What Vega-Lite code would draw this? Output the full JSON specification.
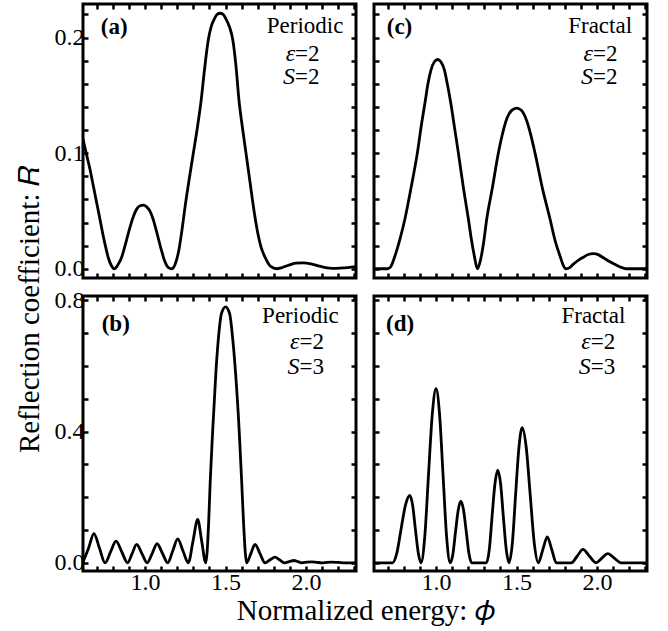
{
  "$schema": "https://vega.github.io/schema/vega-lite/v6.json",
  "background": "white",
  "padding": {"left": 15, "top": 0, "right": 5, "bottom": 5},
  "title": {"text": "Normalized energy: 𝜙", "orient": "bottom", "frame": "bounds", "anchor": "middle", "offset": 1, "dx": 33, "font": "Liberation Serif", "fontSize": 29, "fontWeight": "normal", "color": "black"},
  "config": {
    "view": {"stroke": "black", "strokeWidth": 3},
    "axis": {"domain": false, "grid": false, "ticks": true, "tickColor": "black", "tickWidth": 2.5, "tickSize": -5, "labelFont": "Liberation Serif", "labelFontSize": 24, "labelColor": "black", "labelPadding": 4, "labelOverlap": false, "labelFlush": false},
    "text": {"font": "Liberation Serif", "fontSize": 23, "color": "black"},
    "title": {"font": "Liberation Serif", "fontSize": 29, "fontWeight": "normal", "color": "black"},
    "line": {"color": "black"}
  },
  "datasets": {
    "curves": [
      {"panel":"a","phi":0.615,"R":0.112},{"panel":"a","phi":0.64,"R":0.097},{"panel":"a","phi":0.66,"R":0.085},{"panel":"a","phi":0.68,"R":0.071},{"panel":"a","phi":0.70,"R":0.057},{"panel":"a","phi":0.72,"R":0.043},{"panel":"a","phi":0.741,"R":0.028},{"panel":"a","phi":0.757,"R":0.018},{"panel":"a","phi":0.772,"R":0.0095},{"panel":"a","phi":0.79,"R":0.003},{"panel":"a","phi":0.81,"R":0.0},{"panel":"a","phi":0.83,"R":0.003},{"panel":"a","phi":0.855,"R":0.010},{"panel":"a","phi":0.88,"R":0.022},{"panel":"a","phi":0.907,"R":0.036},{"panel":"a","phi":0.93,"R":0.046},{"panel":"a","phi":0.95,"R":0.052},{"panel":"a","phi":0.97,"R":0.0545},{"panel":"a","phi":0.99,"R":0.055},{"panel":"a","phi":1.01,"R":0.0535},{"panel":"a","phi":1.03,"R":0.050},{"panel":"a","phi":1.05,"R":0.043},{"panel":"a","phi":1.072,"R":0.032},{"panel":"a","phi":1.10,"R":0.017},{"panel":"a","phi":1.124,"R":0.006},{"panel":"a","phi":1.145,"R":0.001},{"panel":"a","phi":1.166,"R":0.0},{"panel":"a","phi":1.19,"R":0.005},{"panel":"a","phi":1.21,"R":0.016},{"panel":"a","phi":1.23,"R":0.034},{"panel":"a","phi":1.25,"R":0.055},{"panel":"a","phi":1.275,"R":0.078},{"panel":"a","phi":1.30,"R":0.100},{"panel":"a","phi":1.325,"R":0.122},{"panel":"a","phi":1.348,"R":0.145},{"panel":"a","phi":1.37,"R":0.173},{"panel":"a","phi":1.393,"R":0.198},{"panel":"a","phi":1.41,"R":0.209},{"panel":"a","phi":1.43,"R":0.216},{"panel":"a","phi":1.448,"R":0.220},{"panel":"a","phi":1.466,"R":0.221},{"panel":"a","phi":1.485,"R":0.220},{"panel":"a","phi":1.503,"R":0.216},{"panel":"a","phi":1.525,"R":0.209},{"panel":"a","phi":1.545,"R":0.198},{"panel":"a","phi":1.565,"R":0.175},{"panel":"a","phi":1.584,"R":0.145},{"panel":"a","phi":1.605,"R":0.122},{"panel":"a","phi":1.627,"R":0.100},{"panel":"a","phi":1.652,"R":0.075},{"panel":"a","phi":1.677,"R":0.050},{"panel":"a","phi":1.70,"R":0.031},{"panel":"a","phi":1.72,"R":0.019},{"panel":"a","phi":1.745,"R":0.010},{"panel":"a","phi":1.78,"R":0.002},{"panel":"a","phi":1.818,"R":0.0},{"panel":"a","phi":1.85,"R":0.001},{"panel":"a","phi":1.89,"R":0.003},{"panel":"a","phi":1.935,"R":0.0048},{"panel":"a","phi":1.983,"R":0.005},{"panel":"a","phi":2.03,"R":0.0042},{"panel":"a","phi":2.077,"R":0.0025},{"panel":"a","phi":2.12,"R":0.001},{"panel":"a","phi":2.16,"R":0.0003},{"panel":"a","phi":2.21,"R":0.0005},{"panel":"a","phi":2.26,"R":0.001},{"panel":"a","phi":2.31,"R":0.0018},

      {"panel":"c","phi":0.615,"R":0.0},{"panel":"c","phi":0.70,"R":0.0},{"panel":"c","phi":0.72,"R":0.002},{"panel":"c","phi":0.745,"R":0.011},{"panel":"c","phi":0.775,"R":0.025},{"panel":"c","phi":0.807,"R":0.043},{"panel":"c","phi":0.845,"R":0.070},{"panel":"c","phi":0.884,"R":0.100},{"panel":"c","phi":0.91,"R":0.125},{"panel":"c","phi":0.932,"R":0.144},{"panel":"c","phi":0.95,"R":0.160},{"panel":"c","phi":0.969,"R":0.172},{"panel":"c","phi":0.99,"R":0.179},{"panel":"c","phi":1.01,"R":0.181},{"panel":"c","phi":1.03,"R":0.179},{"panel":"c","phi":1.052,"R":0.172},{"panel":"c","phi":1.07,"R":0.160},{"panel":"c","phi":1.091,"R":0.144},{"panel":"c","phi":1.115,"R":0.122},{"panel":"c","phi":1.139,"R":0.100},{"panel":"c","phi":1.17,"R":0.070},{"panel":"c","phi":1.201,"R":0.043},{"panel":"c","phi":1.22,"R":0.025},{"panel":"c","phi":1.238,"R":0.011},{"panel":"c","phi":1.257,"R":0.0},{"panel":"c","phi":1.277,"R":0.008},{"panel":"c","phi":1.295,"R":0.022},{"panel":"c","phi":1.315,"R":0.043},{"panel":"c","phi":1.35,"R":0.070},{"panel":"c","phi":1.387,"R":0.100},{"panel":"c","phi":1.415,"R":0.118},{"panel":"c","phi":1.44,"R":0.130},{"panel":"c","phi":1.47,"R":0.137},{"panel":"c","phi":1.501,"R":0.139},{"panel":"c","phi":1.53,"R":0.137},{"panel":"c","phi":1.563,"R":0.128},{"panel":"c","phi":1.59,"R":0.115},{"panel":"c","phi":1.615,"R":0.100},{"panel":"c","phi":1.66,"R":0.070},{"panel":"c","phi":1.708,"R":0.043},{"panel":"c","phi":1.74,"R":0.024},{"panel":"c","phi":1.77,"R":0.011},{"panel":"c","phi":1.79,"R":0.003},{"panel":"c","phi":1.807,"R":0.0},{"panel":"c","phi":1.83,"R":0.001},{"panel":"c","phi":1.853,"R":0.004},{"panel":"c","phi":1.885,"R":0.0075},{"panel":"c","phi":1.915,"R":0.010},{"panel":"c","phi":1.945,"R":0.0123},{"panel":"c","phi":1.977,"R":0.013},{"panel":"c","phi":2.01,"R":0.012},{"panel":"c","phi":2.039,"R":0.0095},{"panel":"c","phi":2.08,"R":0.006},{"panel":"c","phi":2.122,"R":0.003},{"panel":"c","phi":2.155,"R":0.001},{"panel":"c","phi":2.184,"R":0.0},{"panel":"c","phi":2.31,"R":0.0},

      {"panel":"b","phi":0.615,"R":0.002},{"panel":"b","phi":0.65,"R":0.045},{"panel":"b","phi":0.683,"R":0.089},{"panel":"b","phi":0.717,"R":0.045},{"panel":"b","phi":0.752,"R":0.0},{"panel":"b","phi":0.786,"R":0.033},{"panel":"b","phi":0.82,"R":0.066},{"panel":"b","phi":0.856,"R":0.033},{"panel":"b","phi":0.892,"R":0.0},{"panel":"b","phi":0.92,"R":0.028},{"panel":"b","phi":0.948,"R":0.056},{"panel":"b","phi":0.981,"R":0.028},{"panel":"b","phi":1.014,"R":0.0},{"panel":"b","phi":1.045,"R":0.029},{"panel":"b","phi":1.075,"R":0.058},{"panel":"b","phi":1.108,"R":0.029},{"panel":"b","phi":1.141,"R":0.0},{"panel":"b","phi":1.172,"R":0.036},{"panel":"b","phi":1.203,"R":0.073},{"panel":"b","phi":1.236,"R":0.036},{"panel":"b","phi":1.269,"R":0.0},{"panel":"b","phi":1.298,"R":0.066},{"panel":"b","phi":1.327,"R":0.132},{"panel":"b","phi":1.352,"R":0.066},{"panel":"b","phi":1.377,"R":0.0},{"panel":"b","phi":1.395,"R":0.12},{"panel":"b","phi":1.405,"R":0.25},{"panel":"b","phi":1.42,"R":0.40},{"panel":"b","phi":1.44,"R":0.58},{"panel":"b","phi":1.455,"R":0.68},{"panel":"b","phi":1.475,"R":0.76},{"panel":"b","phi":1.50,"R":0.78},{"panel":"b","phi":1.525,"R":0.76},{"panel":"b","phi":1.545,"R":0.68},{"panel":"b","phi":1.562,"R":0.58},{"panel":"b","phi":1.585,"R":0.40},{"panel":"b","phi":1.60,"R":0.25},{"panel":"b","phi":1.612,"R":0.12},{"panel":"b","phi":1.631,"R":0.0},{"panel":"b","phi":1.657,"R":0.028},{"panel":"b","phi":1.683,"R":0.056},{"panel":"b","phi":1.714,"R":0.028},{"panel":"b","phi":1.745,"R":0.0},{"panel":"b","phi":1.776,"R":0.009},{"panel":"b","phi":1.807,"R":0.017},{"panel":"b","phi":1.836,"R":0.009},{"panel":"b","phi":1.865,"R":0.0},{"panel":"b","phi":1.895,"R":0.0035},{"panel":"b","phi":1.925,"R":0.007},{"panel":"b","phi":1.95,"R":0.0035},{"panel":"b","phi":1.973,"R":0.0},{"panel":"b","phi":2.004,"R":0.002},{"panel":"b","phi":2.035,"R":0.003},{"panel":"b","phi":2.066,"R":0.0015},{"panel":"b","phi":2.097,"R":0.0},{"panel":"b","phi":2.13,"R":0.0015},{"panel":"b","phi":2.16,"R":0.002},{"panel":"b","phi":2.2,"R":0.001},{"panel":"b","phi":2.25,"R":0.0},{"panel":"b","phi":2.31,"R":0.0},

      {"panel":"d","phi":0.615,"R":0.0},{"panel":"d","phi":0.73,"R":0.0},{"panel":"d","phi":0.757,"R":0.03},{"panel":"d","phi":0.783,"R":0.1025},{"panel":"d","phi":0.81,"R":0.175},{"panel":"d","phi":0.837,"R":0.205},{"panel":"d","phi":0.855,"R":0.175},{"panel":"d","phi":0.872,"R":0.1025},{"panel":"d","phi":0.89,"R":0.03},{"panel":"d","phi":0.907,"R":0.0},{"panel":"d","phi":0.93,"R":0.078},{"panel":"d","phi":0.953,"R":0.265},{"panel":"d","phi":0.977,"R":0.453},{"panel":"d","phi":1.0,"R":0.531},{"panel":"d","phi":1.022,"R":0.453},{"panel":"d","phi":1.044,"R":0.265},{"panel":"d","phi":1.066,"R":0.078},{"panel":"d","phi":1.088,"R":0.0},{"panel":"d","phi":1.105,"R":0.027},{"panel":"d","phi":1.121,"R":0.094},{"panel":"d","phi":1.138,"R":0.161},{"panel":"d","phi":1.154,"R":0.188},{"panel":"d","phi":1.171,"R":0.161},{"panel":"d","phi":1.188,"R":0.094},{"panel":"d","phi":1.205,"R":0.027},{"panel":"d","phi":1.222,"R":0.0},{"panel":"d","phi":1.313,"R":0.0},{"panel":"d","phi":1.331,"R":0.041},{"panel":"d","phi":1.348,"R":0.141},{"panel":"d","phi":1.366,"R":0.241},{"panel":"d","phi":1.383,"R":0.282},{"panel":"d","phi":1.401,"R":0.241},{"panel":"d","phi":1.418,"R":0.141},{"panel":"d","phi":1.436,"R":0.041},{"panel":"d","phi":1.453,"R":0.0},{"panel":"d","phi":1.474,"R":0.06},{"panel":"d","phi":1.494,"R":0.206},{"panel":"d","phi":1.515,"R":0.352},{"panel":"d","phi":1.535,"R":0.412},{"panel":"d","phi":1.56,"R":0.352},{"panel":"d","phi":1.585,"R":0.206},{"panel":"d","phi":1.61,"R":0.06},{"panel":"d","phi":1.635,"R":0.0},{"panel":"d","phi":1.663,"R":0.04},{"panel":"d","phi":1.691,"R":0.079},{"panel":"d","phi":1.719,"R":0.04},{"panel":"d","phi":1.747,"R":0.0},{"panel":"d","phi":1.84,"R":0.0},{"panel":"d","phi":1.876,"R":0.02},{"panel":"d","phi":1.912,"R":0.041},{"panel":"d","phi":1.953,"R":0.02},{"panel":"d","phi":1.994,"R":0.0},{"panel":"d","phi":2.03,"R":0.014},{"panel":"d","phi":2.066,"R":0.028},{"panel":"d","phi":2.107,"R":0.014},{"panel":"d","phi":2.148,"R":0.0},{"panel":"d","phi":2.31,"R":0.0}
    ],
    "labels": [
      {"panel":"a","kind":"tag","phi":0.725,"R":0.209,"text":"(a)"},
      {"panel":"a","kind":"name","phi":1.994,"R":0.2104,"text":"Periodic"},
      {"panel":"a","kind":"ital","phi":1.932,"R":0.1861,"text":"ε"},
      {"panel":"a","kind":"rest","phi":1.932,"R":0.1861,"text":"=2"},
      {"panel":"a","kind":"ital","phi":1.932,"R":0.1662,"text":"S"},
      {"panel":"a","kind":"rest","phi":1.932,"R":0.1662,"text":"=2"},
      {"panel":"b","kind":"tag","phi":0.731,"R":0.728,"text":"(b)"},
      {"panel":"b","kind":"name","phi":1.965,"R":0.752,"text":"Periodic"},
      {"panel":"b","kind":"ital","phi":1.959,"R":0.673,"text":"ε"},
      {"panel":"b","kind":"rest","phi":1.959,"R":0.673,"text":"=2"},
      {"panel":"b","kind":"ital","phi":1.959,"R":0.597,"text":"S"},
      {"panel":"b","kind":"rest","phi":1.959,"R":0.597,"text":"=3"},
      {"panel":"c","kind":"tag","phi":0.694,"R":0.209,"text":"(c)"},
      {"panel":"c","kind":"name","phi":2.019,"R":0.2104,"text":"Fractal"},
      {"panel":"c","kind":"ital","phi":1.975,"R":0.1861,"text":"ε"},
      {"panel":"c","kind":"rest","phi":1.975,"R":0.1861,"text":"=2"},
      {"panel":"c","kind":"ital","phi":1.975,"R":0.1662,"text":"S"},
      {"panel":"c","kind":"rest","phi":1.975,"R":0.1662,"text":"=2"},
      {"panel":"d","kind":"tag","phi":0.69,"R":0.728,"text":"(d)"},
      {"panel":"d","kind":"name","phi":1.977,"R":0.752,"text":"Fractal"},
      {"panel":"d","kind":"ital","phi":1.961,"R":0.673,"text":"ε"},
      {"panel":"d","kind":"rest","phi":1.961,"R":0.673,"text":"=2"},
      {"panel":"d","kind":"ital","phi":1.961,"R":0.597,"text":"S"},
      {"panel":"d","kind":"rest","phi":1.961,"R":0.597,"text":"=3"}
    ]
  },
  "vconcat": [
    {
      "title": {"text": "Reflection coefficient: 𝑅", "orient": "left", "frame": "bounds", "anchor": "middle", "offset": 8, "dx": -11, "font": "Liberation Serif", "fontSize": 29, "fontWeight": "normal", "color": "black"},
      "spacing": 3,
      "vconcat": [
        {
          "spacing": 18,
          "bounds": "flush",
          "hconcat": [
            {
              "width": 273, "height": 274,
              "layer": [
                {"data": {"name": "curves"}, "transform": [{"filter": "datum.panel === 'a'"}],
                 "mark": {"type": "line", "color": "black", "strokeWidth": 2.8, "interpolate": "monotone", "clip": true},
                 "encoding": {
                   "x": {"field": "phi", "type": "quantitative", "scale": {"domain": [0.615, 2.31], "nice": false, "zero": false}, "axis": {"orient": "bottom", "title": null, "values": [0.7,0.8,0.9,1.0,1.1,1.2,1.3,1.4,1.5,1.6,1.7,1.8,1.9,2.0,2.1,2.2,2.3], "labels": false}},
                   "y": {"field": "R", "type": "quantitative", "scale": {"domain": [-0.008, 0.229], "nice": false, "zero": false}, "axis": {"orient": "left", "title": null, "values": [0,0.02,0.04,0.06,0.08,0.1,0.12,0.14,0.16,0.18,0.2,0.22], "labelExpr": "abs(datum.value*10 - round(datum.value*10)) < 0.001 ? format(datum.value, '.1f') : ''"}}
                 }},
                {"data": {"name": "curves"}, "transform": [{"filter": "datum.panel === 'a'"}],
                 "mark": {"type": "line", "opacity": 0},
                 "encoding": {
                   "x": {"field": "phi", "type": "quantitative", "scale": {"domain": [0.615, 2.31], "nice": false, "zero": false}, "axis": {"orient": "top", "title": null, "values": [0.7,0.8,0.9,1.0,1.1,1.2,1.3,1.4,1.5,1.6,1.7,1.8,1.9,2.0,2.1,2.2,2.3], "labels": false}},
                   "y": {"field": "R", "type": "quantitative", "scale": {"domain": [-0.008, 0.229], "nice": false, "zero": false}, "axis": {"orient": "right", "title": null, "values": [0,0.02,0.04,0.06,0.08,0.1,0.12,0.14,0.16,0.18,0.2,0.22], "labels": false}}
                 }},
                {"data": {"name": "labels"}, "transform": [{"filter": "datum.panel === 'a' && datum.kind === 'tag'"}],
                 "mark": {"type": "text", "fontWeight": "bold", "align": "left", "baseline": "middle"},
                 "encoding": {"x": {"field": "phi", "type": "quantitative", "scale": {"domain": [0.615, 2.31], "nice": false, "zero": false}, "axis": null}, "y": {"field": "R", "type": "quantitative", "scale": {"domain": [-0.008, 0.229], "nice": false, "zero": false}, "axis": null}, "text": {"field": "text"}}},
                {"data": {"name": "labels"}, "transform": [{"filter": "datum.panel === 'a' && datum.kind === 'name'"}],
                 "mark": {"type": "text", "align": "center", "baseline": "middle"},
                 "encoding": {"x": {"field": "phi", "type": "quantitative", "scale": {"domain": [0.615, 2.31], "nice": false, "zero": false}, "axis": null}, "y": {"field": "R", "type": "quantitative", "scale": {"domain": [-0.008, 0.229], "nice": false, "zero": false}, "axis": null}, "text": {"field": "text"}}},
                {"data": {"name": "labels"}, "transform": [{"filter": "datum.panel === 'a' && datum.kind === 'ital'"}],
                 "mark": {"type": "text", "align": "right", "baseline": "middle", "fontStyle": "italic", "fontSize": 24},
                 "encoding": {"x": {"field": "phi", "type": "quantitative", "scale": {"domain": [0.615, 2.31], "nice": false, "zero": false}, "axis": null}, "y": {"field": "R", "type": "quantitative", "scale": {"domain": [-0.008, 0.229], "nice": false, "zero": false}, "axis": null}, "text": {"field": "text"}}},
                {"data": {"name": "labels"}, "transform": [{"filter": "datum.panel === 'a' && datum.kind === 'rest'"}],
                 "mark": {"type": "text", "align": "left", "baseline": "middle"},
                 "encoding": {"x": {"field": "phi", "type": "quantitative", "scale": {"domain": [0.615, 2.31], "nice": false, "zero": false}, "axis": null}, "y": {"field": "R", "type": "quantitative", "scale": {"domain": [-0.008, 0.229], "nice": false, "zero": false}, "axis": null}, "text": {"field": "text"}}}
              ],
              "resolve": {"axis": {"x": "independent", "y": "independent"}}
            },
            {
              "width": 273, "height": 274,
              "layer": [
                {"data": {"name": "curves"}, "transform": [{"filter": "datum.panel === 'c'"}],
                 "mark": {"type": "line", "color": "black", "strokeWidth": 2.8, "interpolate": "monotone", "clip": true},
                 "encoding": {
                   "x": {"field": "phi", "type": "quantitative", "scale": {"domain": [0.615, 2.31], "nice": false, "zero": false}, "axis": {"orient": "bottom", "title": null, "values": [0.7,0.8,0.9,1.0,1.1,1.2,1.3,1.4,1.5,1.6,1.7,1.8,1.9,2.0,2.1,2.2,2.3], "labels": false}},
                   "y": {"field": "R", "type": "quantitative", "scale": {"domain": [-0.008, 0.229], "nice": false, "zero": false}, "axis": {"orient": "left", "title": null, "values": [0,0.02,0.04,0.06,0.08,0.1,0.12,0.14,0.16,0.18,0.2,0.22], "labels": false}}
                 }},
                {"data": {"name": "curves"}, "transform": [{"filter": "datum.panel === 'c'"}],
                 "mark": {"type": "line", "opacity": 0},
                 "encoding": {
                   "x": {"field": "phi", "type": "quantitative", "scale": {"domain": [0.615, 2.31], "nice": false, "zero": false}, "axis": {"orient": "top", "title": null, "values": [0.7,0.8,0.9,1.0,1.1,1.2,1.3,1.4,1.5,1.6,1.7,1.8,1.9,2.0,2.1,2.2,2.3], "labels": false}},
                   "y": {"field": "R", "type": "quantitative", "scale": {"domain": [-0.008, 0.229], "nice": false, "zero": false}, "axis": {"orient": "right", "title": null, "values": [0,0.02,0.04,0.06,0.08,0.1,0.12,0.14,0.16,0.18,0.2,0.22], "labels": false}}
                 }},
                {"data": {"name": "labels"}, "transform": [{"filter": "datum.panel === 'c' && datum.kind === 'tag'"}],
                 "mark": {"type": "text", "fontWeight": "bold", "align": "left", "baseline": "middle"},
                 "encoding": {"x": {"field": "phi", "type": "quantitative", "scale": {"domain": [0.615, 2.31], "nice": false, "zero": false}, "axis": null}, "y": {"field": "R", "type": "quantitative", "scale": {"domain": [-0.008, 0.229], "nice": false, "zero": false}, "axis": null}, "text": {"field": "text"}}},
                {"data": {"name": "labels"}, "transform": [{"filter": "datum.panel === 'c' && datum.kind === 'name'"}],
                 "mark": {"type": "text", "align": "center", "baseline": "middle"},
                 "encoding": {"x": {"field": "phi", "type": "quantitative", "scale": {"domain": [0.615, 2.31], "nice": false, "zero": false}, "axis": null}, "y": {"field": "R", "type": "quantitative", "scale": {"domain": [-0.008, 0.229], "nice": false, "zero": false}, "axis": null}, "text": {"field": "text"}}},
                {"data": {"name": "labels"}, "transform": [{"filter": "datum.panel === 'c' && datum.kind === 'ital'"}],
                 "mark": {"type": "text", "align": "right", "baseline": "middle", "fontStyle": "italic", "fontSize": 24},
                 "encoding": {"x": {"field": "phi", "type": "quantitative", "scale": {"domain": [0.615, 2.31], "nice": false, "zero": false}, "axis": null}, "y": {"field": "R", "type": "quantitative", "scale": {"domain": [-0.008, 0.229], "nice": false, "zero": false}, "axis": null}, "text": {"field": "text"}}},
                {"data": {"name": "labels"}, "transform": [{"filter": "datum.panel === 'c' && datum.kind === 'rest'"}],
                 "mark": {"type": "text", "align": "left", "baseline": "middle"},
                 "encoding": {"x": {"field": "phi", "type": "quantitative", "scale": {"domain": [0.615, 2.31], "nice": false, "zero": false}, "axis": null}, "y": {"field": "R", "type": "quantitative", "scale": {"domain": [-0.008, 0.229], "nice": false, "zero": false}, "axis": null}, "text": {"field": "text"}}}
              ],
              "resolve": {"axis": {"x": "independent", "y": "independent"}}
            }
          ]
        },
        {
          "spacing": 18,
          "bounds": "flush",
          "hconcat": [
            {
              "width": 273, "height": 275,
              "layer": [
                {"data": {"name": "curves"}, "transform": [{"filter": "datum.panel === 'b'"}],
                 "mark": {"type": "line", "color": "black", "strokeWidth": 2.8, "interpolate": "monotone", "clip": true},
                 "encoding": {
                   "x": {"field": "phi", "type": "quantitative", "scale": {"domain": [0.615, 2.31], "nice": false, "zero": false}, "axis": {"orient": "bottom", "title": null, "values": [0.7,0.8,0.9,1.0,1.1,1.2,1.3,1.4,1.5,1.6,1.7,1.8,1.9,2.0,2.1,2.2,2.3], "labelExpr": "abs(datum.value*2 - round(datum.value*2)) < 0.001 ? format(datum.value, '.1f') : ''"}},
                   "y": {"field": "R", "type": "quantitative", "scale": {"domain": [-0.025, 0.813], "nice": false, "zero": false}, "axis": {"orient": "left", "title": null, "values": [0,0.1,0.2,0.3,0.4,0.5,0.6,0.7,0.8], "labelExpr": "abs(datum.value*2.5 - round(datum.value*2.5)) < 0.001 ? format(datum.value, '.1f') : ''"}}
                 }},
                {"data": {"name": "curves"}, "transform": [{"filter": "datum.panel === 'b'"}],
                 "mark": {"type": "line", "opacity": 0},
                 "encoding": {
                   "x": {"field": "phi", "type": "quantitative", "scale": {"domain": [0.615, 2.31], "nice": false, "zero": false}, "axis": {"orient": "top", "title": null, "values": [0.7,0.8,0.9,1.0,1.1,1.2,1.3,1.4,1.5,1.6,1.7,1.8,1.9,2.0,2.1,2.2,2.3], "labels": false}},
                   "y": {"field": "R", "type": "quantitative", "scale": {"domain": [-0.025, 0.813], "nice": false, "zero": false}, "axis": {"orient": "right", "title": null, "values": [0,0.1,0.2,0.3,0.4,0.5,0.6,0.7,0.8], "labels": false}}
                 }},
                {"data": {"name": "labels"}, "transform": [{"filter": "datum.panel === 'b' && datum.kind === 'tag'"}],
                 "mark": {"type": "text", "fontWeight": "bold", "align": "left", "baseline": "middle"},
                 "encoding": {"x": {"field": "phi", "type": "quantitative", "scale": {"domain": [0.615, 2.31], "nice": false, "zero": false}, "axis": null}, "y": {"field": "R", "type": "quantitative", "scale": {"domain": [-0.025, 0.813], "nice": false, "zero": false}, "axis": null}, "text": {"field": "text"}}},
                {"data": {"name": "labels"}, "transform": [{"filter": "datum.panel === 'b' && datum.kind === 'name'"}],
                 "mark": {"type": "text", "align": "center", "baseline": "middle"},
                 "encoding": {"x": {"field": "phi", "type": "quantitative", "scale": {"domain": [0.615, 2.31], "nice": false, "zero": false}, "axis": null}, "y": {"field": "R", "type": "quantitative", "scale": {"domain": [-0.025, 0.813], "nice": false, "zero": false}, "axis": null}, "text": {"field": "text"}}},
                {"data": {"name": "labels"}, "transform": [{"filter": "datum.panel === 'b' && datum.kind === 'ital'"}],
                 "mark": {"type": "text", "align": "right", "baseline": "middle", "fontStyle": "italic", "fontSize": 24},
                 "encoding": {"x": {"field": "phi", "type": "quantitative", "scale": {"domain": [0.615, 2.31], "nice": false, "zero": false}, "axis": null}, "y": {"field": "R", "type": "quantitative", "scale": {"domain": [-0.025, 0.813], "nice": false, "zero": false}, "axis": null}, "text": {"field": "text"}}},
                {"data": {"name": "labels"}, "transform": [{"filter": "datum.panel === 'b' && datum.kind === 'rest'"}],
                 "mark": {"type": "text", "align": "left", "baseline": "middle"},
                 "encoding": {"x": {"field": "phi", "type": "quantitative", "scale": {"domain": [0.615, 2.31], "nice": false, "zero": false}, "axis": null}, "y": {"field": "R", "type": "quantitative", "scale": {"domain": [-0.025, 0.813], "nice": false, "zero": false}, "axis": null}, "text": {"field": "text"}}}
              ],
              "resolve": {"axis": {"x": "independent", "y": "independent"}}
            },
            {
              "width": 273, "height": 275,
              "layer": [
                {"data": {"name": "curves"}, "transform": [{"filter": "datum.panel === 'd'"}],
                 "mark": {"type": "line", "color": "black", "strokeWidth": 2.8, "interpolate": "monotone", "clip": true},
                 "encoding": {
                   "x": {"field": "phi", "type": "quantitative", "scale": {"domain": [0.615, 2.31], "nice": false, "zero": false}, "axis": {"orient": "bottom", "title": null, "values": [0.7,0.8,0.9,1.0,1.1,1.2,1.3,1.4,1.5,1.6,1.7,1.8,1.9,2.0,2.1,2.2,2.3], "labelExpr": "abs(datum.value*2 - round(datum.value*2)) < 0.001 ? format(datum.value, '.1f') : ''"}},
                   "y": {"field": "R", "type": "quantitative", "scale": {"domain": [-0.025, 0.813], "nice": false, "zero": false}, "axis": {"orient": "left", "title": null, "values": [0,0.1,0.2,0.3,0.4,0.5,0.6,0.7,0.8], "labels": false}}
                 }},
                {"data": {"name": "curves"}, "transform": [{"filter": "datum.panel === 'd'"}],
                 "mark": {"type": "line", "opacity": 0},
                 "encoding": {
                   "x": {"field": "phi", "type": "quantitative", "scale": {"domain": [0.615, 2.31], "nice": false, "zero": false}, "axis": {"orient": "top", "title": null, "values": [0.7,0.8,0.9,1.0,1.1,1.2,1.3,1.4,1.5,1.6,1.7,1.8,1.9,2.0,2.1,2.2,2.3], "labels": false}},
                   "y": {"field": "R", "type": "quantitative", "scale": {"domain": [-0.025, 0.813], "nice": false, "zero": false}, "axis": {"orient": "right", "title": null, "values": [0,0.1,0.2,0.3,0.4,0.5,0.6,0.7,0.8], "labels": false}}
                 }},
                {"data": {"name": "labels"}, "transform": [{"filter": "datum.panel === 'd' && datum.kind === 'tag'"}],
                 "mark": {"type": "text", "fontWeight": "bold", "align": "left", "baseline": "middle"},
                 "encoding": {"x": {"field": "phi", "type": "quantitative", "scale": {"domain": [0.615, 2.31], "nice": false, "zero": false}, "axis": null}, "y": {"field": "R", "type": "quantitative", "scale": {"domain": [-0.025, 0.813], "nice": false, "zero": false}, "axis": null}, "text": {"field": "text"}}},
                {"data": {"name": "labels"}, "transform": [{"filter": "datum.panel === 'd' && datum.kind === 'name'"}],
                 "mark": {"type": "text", "align": "center", "baseline": "middle"},
                 "encoding": {"x": {"field": "phi", "type": "quantitative", "scale": {"domain": [0.615, 2.31], "nice": false, "zero": false}, "axis": null}, "y": {"field": "R", "type": "quantitative", "scale": {"domain": [-0.025, 0.813], "nice": false, "zero": false}, "axis": null}, "text": {"field": "text"}}},
                {"data": {"name": "labels"}, "transform": [{"filter": "datum.panel === 'd' && datum.kind === 'ital'"}],
                 "mark": {"type": "text", "align": "right", "baseline": "middle", "fontStyle": "italic", "fontSize": 24},
                 "encoding": {"x": {"field": "phi", "type": "quantitative", "scale": {"domain": [0.615, 2.31], "nice": false, "zero": false}, "axis": null}, "y": {"field": "R", "type": "quantitative", "scale": {"domain": [-0.025, 0.813], "nice": false, "zero": false}, "axis": null}, "text": {"field": "text"}}},
                {"data": {"name": "labels"}, "transform": [{"filter": "datum.panel === 'd' && datum.kind === 'rest'"}],
                 "mark": {"type": "text", "align": "left", "baseline": "middle"},
                 "encoding": {"x": {"field": "phi", "type": "quantitative", "scale": {"domain": [0.615, 2.31], "nice": false, "zero": false}, "axis": null}, "y": {"field": "R", "type": "quantitative", "scale": {"domain": [-0.025, 0.813], "nice": false, "zero": false}, "axis": null}, "text": {"field": "text"}}}
              ],
              "resolve": {"axis": {"x": "independent", "y": "independent"}}
            }
          ]
        }
      ]
    }
  ]
}
